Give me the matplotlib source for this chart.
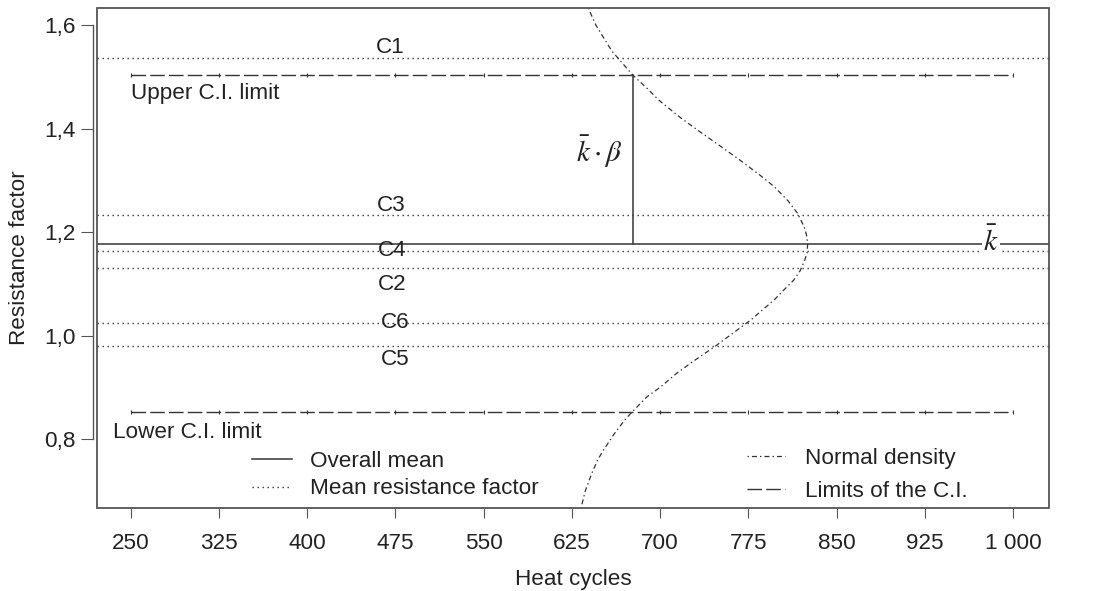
import matplotlib
matplotlib.use('Agg')
import matplotlib.pyplot as plt
from matplotlib.patches import Rectangle

plt.rcParams['font.family'] = ['Liberation Sans', 'DejaVu Sans']
plt.rcParams['mathtext.fontset'] = 'stix'
plt.rcParams['lines.scale_dashes'] = False

# ---------------- data ----------------
x_ticks = [250, 325, 400, 475, 550, 625, 700, 775, 850, 925, 1000]
x_tick_labels = ['250', '325', '400', '475', '550', '625', '700', '775', '850', '925', '1 000']
y_ticks = [0.8, 1.0, 1.2, 1.4, 1.6]
y_tick_labels = ['0,8', '1,0', '1,2', '1,4', '1,6']

overall_mean = 1.178
ci_upper = 1.503
ci_lower = 0.852
ci_x = [250, 325, 400, 475, 550, 625, 700, 775, 850, 925, 1000]

group_names = ['C1', 'C2', 'C3', 'C4', 'C5', 'C6']
group_means = [1.536, 1.130, 1.233, 1.163, 0.980, 1.025]
group_label_x = [471, 472, 472, 472, 475, 475]
group_label_y = [1.557, 1.0995, 1.252, 1.165, 0.953, 1.025]

# normal density curve (heat cycles vs resistance factor)
density_y = [1.633, 1.600, 1.550, 1.503, 1.480, 1.455, 1.420, 1.397, 1.365,
             1.339, 1.310, 1.288, 1.260, 1.236, 1.210, 1.195, 1.178, 1.160,
             1.146, 1.125, 1.107, 1.090, 1.069, 1.030, 0.978, 0.950, 0.927,
             0.900, 0.882, 0.852, 0.837, 0.810, 0.779, 0.760, 0.734, 0.700,
             0.668]
density_x = [639, 645.5, 659, 677, 688, 699, 718, 732, 752,
             768, 785, 797, 809, 817, 822.5, 824.5, 825.5, 825,
             823, 819, 813.5, 806, 797, 777, 746, 728, 714,
             700, 689, 676, 670, 661, 652, 647, 642, 636.5,
             633]

beta_x = 677

# ---------------- figure ----------------
W, H = 1104, 591
fig = plt.figure(figsize=(W / 100, H / 100), dpi=100)
ax = fig.add_axes([97 / W, 1 - 508 / H, 952 / W, 500 / H])
ax.set_xlim(221.5, 1030.6)
ax.set_ylim(0.667, 1.633)

line_col = '#333333'
box_col = '#555555'
txt_col = '#222222'
fs = 16.2

dotted = (0, (1.0, 2.6))
dashed = (0, (10.5, 3.0))
dashdot = (0, (1.0, 2.2, 3.6, 2.2))

# group mean lines (dotted, full width)
for m in group_means:
    ax.axhline(m, color=line_col, lw=1.0, linestyle=dotted, zorder=2)
dot_handle = plt.Line2D([], [], color=line_col, lw=1.0, linestyle=dotted)

# overall mean
mean_handle = ax.axhline(overall_mean, color='#444444', lw=1.2, zorder=2)

# CI limits
for lim in (ci_upper, ci_lower):
    ax.plot(ci_x, [lim] * len(ci_x), color=line_col, lw=1.0,
            linestyle=dashed, marker='|', markersize=3,
            markeredgewidth=0.8, zorder=2)
ci_handle = plt.Line2D([], [], color=line_col, lw=1.0, linestyle=dashed)

# vertical k*beta line
ax.plot([beta_x, beta_x], [overall_mean, ci_upper], color='#444444', lw=1.2, zorder=2)

# normal density
dens_handle, = ax.plot(density_x, density_y, color=line_col, lw=0.9,
                       linestyle=dashdot, zorder=3)

# group labels
for name, gx, gy in zip(group_names, group_label_x, group_label_y):
    ax.text(gx, gy, name, fontsize=fs, ha='center', va='center', color=txt_col, zorder=4)

ax.text(250, 1.4686, 'Upper C.I. limit', fontsize=fs, ha='left', va='center', color=txt_col)
ax.text(235.4, 0.8126, 'Lower C.I. limit', fontsize=fs, ha='left', va='center', color=txt_col)

ax.text(648, 1.3546, r'$\bar{k}\cdot\beta$', fontsize=21, ha='center', va='center', color=txt_col)
ax.text(981.4, overall_mean + 0.003, r'$\bar{k}$', fontsize=21, ha='center', va='center', color=txt_col,
        bbox=dict(facecolor='white', edgecolor='none', pad=1.0), zorder=5)

# legends
leg1 = ax.legend([mean_handle, dot_handle], ['Overall mean', 'Mean resistance factor'],
                 loc='center left', bbox_to_anchor=(0.1625, 0.066), frameon=False,
                 fontsize=fs, handlelength=1.78, handletextpad=0.8, labelspacing=0.3,
                 borderpad=0, borderaxespad=0)
for t in leg1.get_texts():
    t.set_color(txt_col)
ax.add_artist(leg1)
leg2 = ax.legend([dens_handle, ci_handle], ['Normal density', 'Limits of the C.I.'],
                 loc='center left', bbox_to_anchor=(0.6825, 0.066), frameon=False,
                 fontsize=fs, handlelength=1.7, handletextpad=0.9, labelspacing=0.55,
                 borderpad=0, borderaxespad=0)
for t in leg2.get_texts():
    t.set_color(txt_col)

# axes styling
for s in ('top', 'right', 'bottom'):
    ax.spines[s].set_visible(False)
ax.spines['left'].set_position(('outward', 3))
ax.spines['left'].set_bounds(0.8, 1.6)
ax.spines['left'].set_color(box_col)
ax.spines['left'].set_linewidth(1.0)
ax.add_patch(Rectangle((0, 0), 1, 1, transform=ax.transAxes, fill=False,
                       edgecolor=box_col, lw=1.3, clip_on=False, zorder=6))

ax.set_xticks(x_ticks)
ax.set_xticklabels(x_tick_labels)
ax.set_yticks(y_ticks)
ax.set_yticklabels(y_tick_labels)
ax.tick_params(axis='x', direction='out', length=7.2, width=0.8, color=box_col,
               pad=10.5, labelsize=fs, labelcolor=txt_col)
ax.tick_params(axis='y', direction='out', length=8.6, width=0.8, color=box_col,
               pad=3.6, labelsize=fs, labelcolor=txt_col)

fig.text(573 / W, 1 - 579 / H, 'Heat cycles', fontsize=fs, ha='center', va='center', color=txt_col)
fig.text(20 / W, 1 - 258 / H, 'Resistance factor', fontsize=fs, ha='center', va='center',
         rotation=90, color=txt_col)

fig.savefig('out.png', dpi=100)
